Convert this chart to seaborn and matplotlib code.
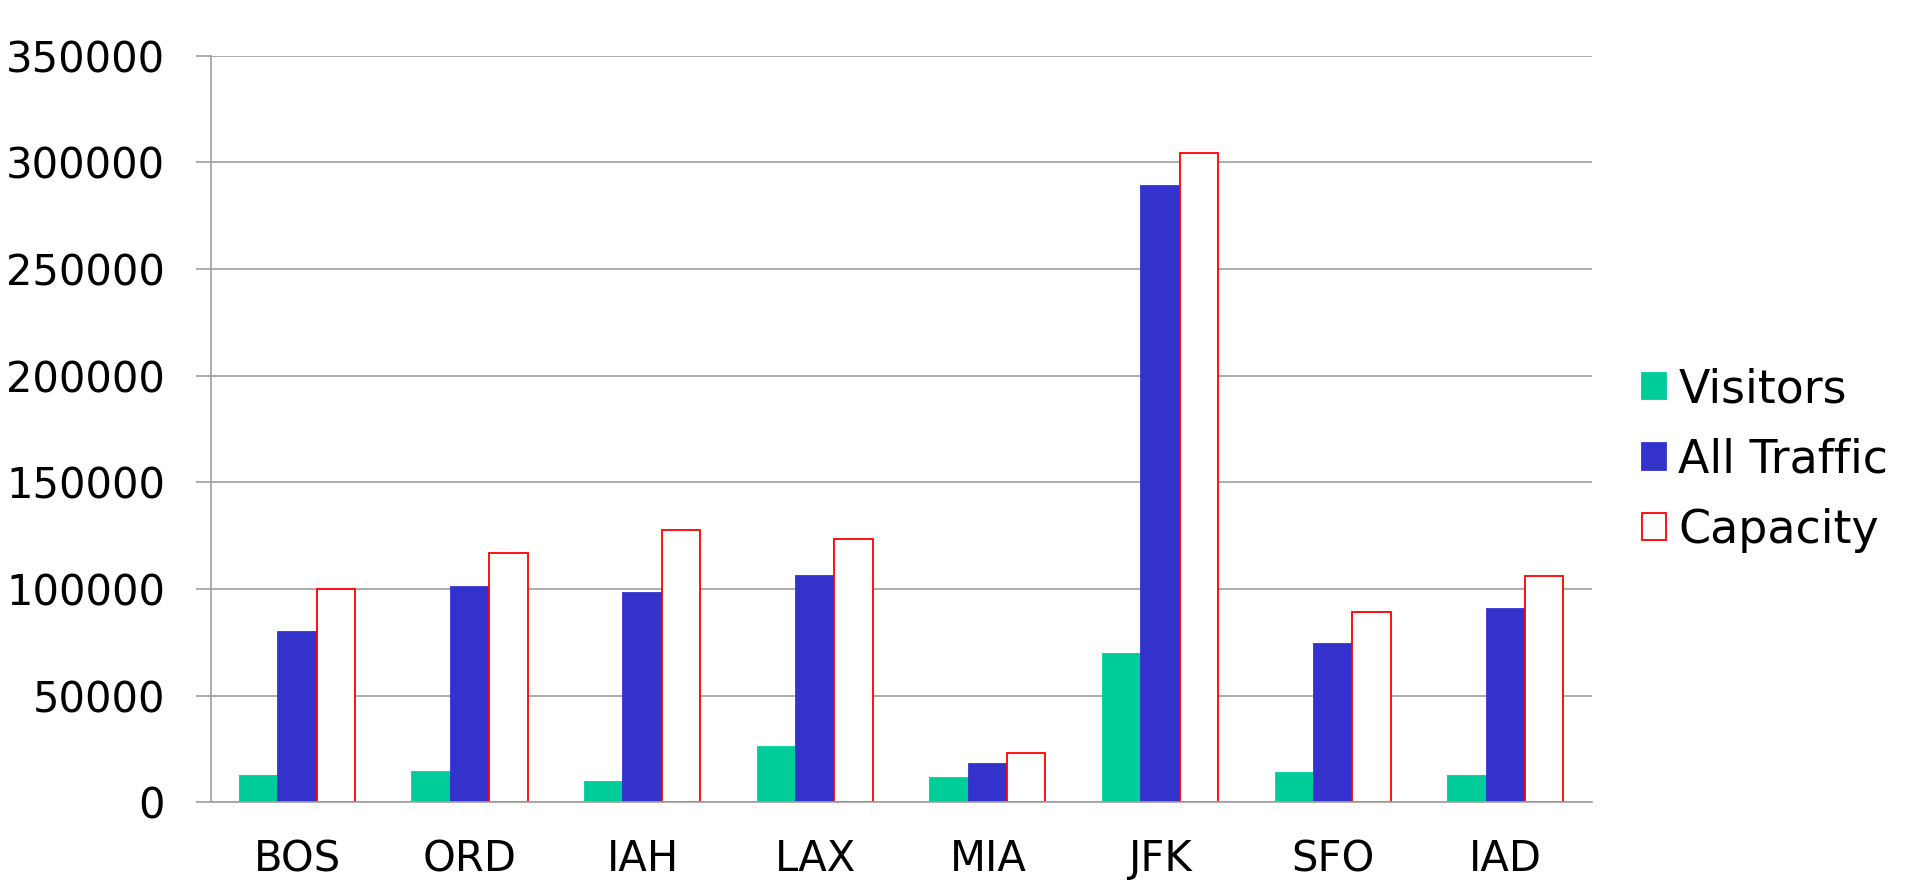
import pandas as pd
import seaborn as sns
import matplotlib.pyplot as plt
from matplotlib.ticker import FixedLocator

airports = ["BOS", "ORD", "IAH", "LAX", "MIA", "JFK", "SFO", "IAD"]
visitors = [12200, 14100, 9400, 26100, 11300, 69400, 13600, 12300]
all_traffic = [79700, 100800, 98300, 106100, 17800, 289000, 74200, 90700]
capacity = [99900, 116800, 127600, 123500, 23000, 304400, 89100, 106000]
series = ["Visitors", "All Traffic", "Capacity"]
y_ticks = [0, 50000, 100000, 150000, 200000, 250000, 300000, 350000]

df = pd.DataFrame({
    "airport": airports * 3,
    "series": [series[0]] * 8 + [series[1]] * 8 + [series[2]] * 8,
    "value": visitors + all_traffic + capacity,
})

sns.set_style("white")
plt.rcParams["font.family"] = ["DejaVu Sans"]
plt.rcParams["text.color"] = "black"
plt.rcParams["xtick.labelcolor"] = "black"
plt.rcParams["ytick.labelcolor"] = "black"

fig = plt.figure(figsize=(19.05, 8.83), dpi=100)
ax = fig.add_axes([0.1108, 0.0914, 0.7249, 0.8455])

sns.barplot(data=df, x="airport", y="value", hue="series", order=airports,
            hue_order=series, palette=["#00CC99", "#3333CC", "#FFFFFF"],
            width=0.667, saturation=1, legend=False, ax=ax)

# style each series: capacity is an outlined bar
for cont, (fc, ec) in zip(ax.containers, [("#00CC99", "#00CC99"),
                                          ("#3333CC", "#3333CC"),
                                          ("#FFFFFF", "#FF0000")]):
    for p in cont.patches:
        p.set_facecolor(fc)
        p.set_edgecolor(ec)
        p.set_linewidth(1.3)

ax.set_xlim(-0.5, 7.5)
ax.set_ylim(0, 350000)
ax.set_yticks(y_ticks)
ax.set_yticklabels([str(t) for t in y_ticks])
ax.set_xlabel("")
ax.set_ylabel("")

grey = "#a0a0a0"
ax.yaxis.grid(True, color=grey, linewidth=1.2)
ax.set_axisbelow(True)
for s in ["top", "right"]:
    ax.spines[s].set_visible(False)
for s in ["left", "bottom"]:
    ax.spines[s].set_color(grey)
    ax.spines[s].set_linewidth(1.2)

ax.xaxis.set_minor_locator(FixedLocator([i - 0.5 for i in range(9)]))
ax.tick_params(axis="x", which="major", length=0, pad=26, labelsize=30)
ax.tick_params(axis="x", which="minor", length=11, width=1.2, color=grey,
               direction="out")
ax.tick_params(axis="y", length=11, width=1.2, color=grey, direction="out",
               pad=22, labelsize=30, left=True)

ax.legend(ax.containers, series, loc="center left",
          bbox_to_anchor=(0.8405, 0.479), bbox_transform=fig.transFigure,
          frameon=False, fontsize=33, handlelength=0.52, handleheight=0.52,
          handletextpad=0.26, labelspacing=0.55)

fig.savefig("out.png", dpi=100)
